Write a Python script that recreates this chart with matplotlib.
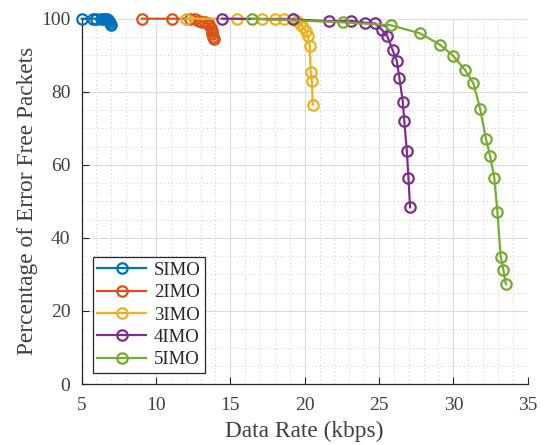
import numpy as np
import matplotlib.pyplot as plt
from matplotlib.ticker import MultipleLocator

plt.rcParams['font.family'] = ['Liberation Serif', 'DejaVu Serif']

# rate (kbps) vs percentage of error free packets for each scheme
simo_x = [5.0, 5.8, 6.0, 6.3, 6.5, 6.6, 6.7, 6.8, 6.85, 6.9, 6.95]
simo_y = [100, 100, 100, 100, 100, 100, 99.9, 99.7, 99.3, 98.9, 98.3]

imo2_x = [9.05, 11.07, 12.3, 12.6, 12.9, 13.1, 13.3, 13.5, 13.6, 13.7, 13.75, 13.8, 13.85, 13.9]
imo2_y = [100, 100, 100, 99.8, 99.5, 99.2, 99.0, 98.7, 98.2, 97.5, 96.5, 95.8, 95.0, 94.5]

imo3_x = [12.0, 15.44, 17.15, 18.0, 18.6, 19.2, 19.5, 19.7, 19.9, 20.1, 20.2, 20.35, 20.4, 20.48, 20.55]
imo3_y = [100, 100, 100, 100, 100, 99.8, 99.3, 98.6, 97.8, 96.6, 95.2, 92.6, 85.5, 82.9, 76.5]

imo4_x = [14.45, 19.25, 21.66, 23.1, 24.07, 24.74, 25.19, 25.56, 25.92, 26.2, 26.37, 26.6, 26.7, 26.87, 26.98, 27.09]
imo4_y = [100, 99.8, 99.3, 99.4, 98.9, 98.7, 97.0, 95.2, 91.4, 88.4, 83.9, 77.3, 72.0, 63.9, 56.5, 48.4]

imo5_x = [16.45, 22.6, 25.8, 27.76, 29.1, 30.0, 30.8, 31.35, 31.8, 32.2, 32.47, 32.76, 32.96, 33.19, 33.37, 33.53]
imo5_y = [100, 99.0, 98.2, 96.0, 92.9, 89.8, 85.9, 82.3, 75.4, 67.0, 62.5, 56.3, 47.2, 34.8, 31.2, 27.4]

series = [
    (simo_x, simo_y, 'SIMO', '#0072BD'),
    (imo2_x, imo2_y, '2IMO', '#D95319'),
    (imo3_x, imo3_y, '3IMO', '#EDB120'),
    (imo4_x, imo4_y, '4IMO', '#7E2F8E'),
    (imo5_x, imo5_y, '5IMO', '#77AC30'),
]

fig = plt.figure(figsize=(5.44, 4.45), dpi=100)
ax = fig.add_axes([0.150, 0.137, 0.820, 0.821])

for x, y, name, c in series:
    ax.plot(x, y, '-o', color=c, lw=1.6, ms=7.5, mfc='none', mew=1.6,
            label=name, clip_on=False, zorder=3)

ax.set_xlim(5, 35)
ax.set_ylim(0, 100)
ax.xaxis.set_major_locator(MultipleLocator(5))
ax.yaxis.set_major_locator(MultipleLocator(20))
ax.xaxis.set_minor_locator(MultipleLocator(1))
ax.yaxis.set_minor_locator(MultipleLocator(5))

ax.grid(True, which='major', color='#dcdcdc', lw=0.8, ls='-')
ax.grid(True, which='minor', color='#c8c8c8', lw=0.7, ls=(0, (1, 3)))
ax.set_axisbelow(True)

for s in ['top', 'right']:
    ax.spines[s].set_visible(False)
for s in ['left', 'bottom']:
    ax.spines[s].set_color('#262626')
    ax.spines[s].set_linewidth(0.9)

ax.tick_params(which='major', direction='in', length=5, width=0.8,
               colors='#262626', labelsize=14, labelcolor='#404040')
ax.tick_params(axis='x', which='major', pad=9)
ax.tick_params(axis='y', which='major', pad=8)
ax.tick_params(which='minor', length=0)

ax.set_xlabel('Data Rate (kbps)', fontsize=16.8, color='#404040', labelpad=5)
ax.set_ylabel('Percentage of Error Free Packets', fontsize=16.8, color='#404040', labelpad=2)

leg = ax.legend(loc='lower left', bbox_to_anchor=(0.025, 0.03), fontsize=13.5,
                fancybox=False, framealpha=1, edgecolor='#262626',
                handlelength=2.6, borderpad=0.25, labelspacing=0.28,
                handletextpad=0.4, borderaxespad=0)
leg.get_frame().set_linewidth(0.9)
for t in leg.get_texts():
    t.set_color('#262626')

fig.savefig('out.png', dpi=100)
